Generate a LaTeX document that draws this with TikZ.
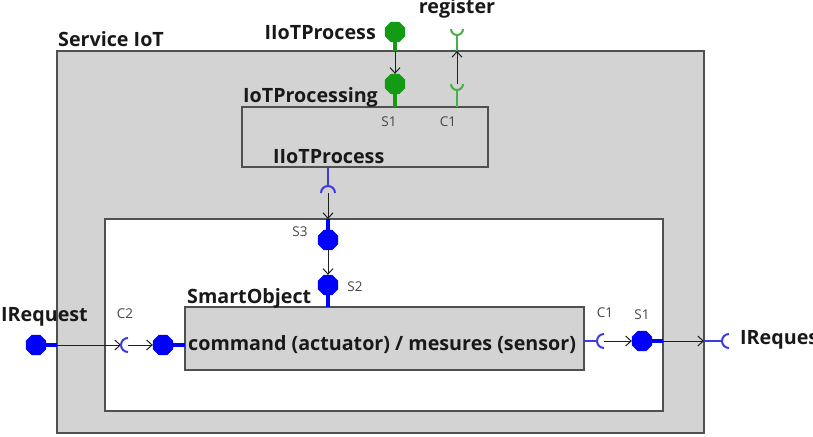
\documentclass[tikz,border=0pt]{standalone}
\usepackage{fontspec}
\setmainfont{Open Sans}
\usetikzlibrary{shapes.geometric,arrows.meta,shadows}
\definecolor{boxgray}{RGB}{211,211,211}
\definecolor{boxline}{RGB}{80,80,80}
\definecolor{pgreen}{RGB}{20,155,20}
\definecolor{lgreen}{RGB}{70,175,70}
\definecolor{pblue}{RGB}{0,0,255}
\definecolor{sblue}{RGB}{60,60,225}
\definecolor{lblgray}{RGB}{70,70,70}
\tikzset{
  box/.style={draw=boxline, line width=1.2pt, inner sep=0pt, outer sep=0pt,
    drop shadow={shadow xshift=1.2pt, shadow yshift=-1.2pt, fill=black, opacity=0.4}},
  gport/.style={regular polygon, regular polygon sides=8, minimum size=22pt, inner sep=0pt, outer sep=0pt, fill=pgreen},
  bport/.style={regular polygon, regular polygon sides=8, minimum size=22pt, inner sep=0pt, outer sep=0pt, fill=pblue},
  gstem/.style={draw=pgreen, line width=3.5pt},
  bstem/.style={draw=pblue, line width=3.2pt},
  gsock/.style={draw=lgreen, line width=2pt},
  bsock/.style={draw=sblue, line width=2pt},
  gline/.style={draw=lgreen, line width=1.3pt},
  bline/.style={draw=sblue, line width=1.4pt},
  conn/.style={draw=black!88, line width=1pt, -{Straight Barb[length=5.5pt,width=10pt]}},
  big/.style={font=\fontsize{19.7}{21}\selectfont\bfseries, inner sep=0pt, text=black!90},
  small/.style={font=\fontsize{13.5}{14}\selectfont, inner sep=0pt, text=lblgray},
}
\begin{document}
\begin{tikzpicture}[x=1pt,y=1pt]
\useasboundingbox (0,0) rectangle (813,-436);
% boxes
\node[box, fill=boxgray, minimum width=647pt, minimum height=382pt] (svc) at (380.5,-242) {};
\node[box, fill=white, minimum width=558pt, minimum height=192pt] (inner) at (384,-315) {};
\node[box, fill=boxgray, minimum width=246pt, minimum height=60pt] (proc) at (365,-137) {};
\node[box, fill=boxgray, minimum width=399pt, minimum height=63pt] (so) at (384.5,-338.5) {};

% labels
\node[big, anchor=base west] (tsvc) at (58,-47) {Service IoT};
\node[big, anchor=base east] (tiiot) at (376,-40) {IIoTProcess};
\node[big, anchor=base] (treg) at (457,-14) {register};
\node[big, anchor=base west] (tproc) at (243,-102) {IoTProcessing};
\node[big, anchor=base west] (tiiot2) at (273,-163) {IIoTProcess};
\node[big, anchor=base west] (tso) at (187,-303) {SmartObject};
\node[big, anchor=west] (tcmd) at (188,-345) {command (actuator) / mesures (sensor)};
\node[big, anchor=west] (tirl) at (1,-317) {IRequest};
\node[big, anchor=west] (tirr) at (740,-340) {IRequest};
\node[small] (ls1a) at (389,-122) {S1};
\node[small] (lc1a) at (448,-122) {C1};
\node[small] (ls3) at (300,-232) {S3};
\node[small] (ls2) at (355,-287) {S2};
\node[small] (lc2) at (125,-314) {C2};
\node[small] (lc1b) at (605,-313) {C1};
\node[small] (ls1b) at (642,-315) {S1};

% top green ports
\node[gport] (gtop) at (395,-32) {};
\node[gport] (gs1) at (395,-84) {};
\draw[gstem] (gtop.south) -- (svc.north -| gtop);
\draw[conn] (svc.north -| gtop) -- (gs1.north);
\draw[gstem] (gs1.south) -- (proc.north -| gs1);

% register sockets
\coordinate (regU) at (457,-29);
\coordinate (regUb) at (457,-35);
\coordinate (regL) at (457,-84);
\coordinate (regLb) at (457,-90);
\draw[gsock] ([xshift=-6pt]regU) arc[start angle=180, end angle=360, radius=6pt];
\draw[gline] (regUb) -- (svc.north -| regUb);
\draw[gsock] ([xshift=-6pt]regL) arc[start angle=180, end angle=360, radius=6pt];
\draw[gline] (regLb) -- (proc.north -| regLb);
\draw[conn] (regL) -- (svc.north -| regL);

% blue socket below IoTProcessing
\coordinate (sockP) at (328,-193);
\coordinate (sockPt) at (328,-186);
\draw[bsock] ([xshift=7pt]sockP) arc[start angle=0, end angle=180, radius=7pt];
\draw[bline] (proc.south -| sockPt) -- (sockPt);
\draw[conn] (sockP) -- (inner.north -| sockP);

% S3 / S2
\node[bport] (s3) at (328,-240) {};
\node[bport] (s2) at (328,-285) {};
\draw[bstem] (inner.north -| s3) -- (s3.north);
\draw[conn] (s3.south) -- (s2.north);
\draw[bstem] (s2.south) -- (so.north -| s2);

% left side
\node[bport] (irl) at (36,-345) {};
\node[bport] (sop) at (163,-345) {};
\coordinate (c2) at (128,-345);
\coordinate (c2b) at (121,-345);
\draw[bstem] (irl.east) -- (svc.west |- irl);
\draw[conn] (svc.west |- irl) -- (c2b);
\draw[bsock] ([yshift=7pt]c2) arc[start angle=90, end angle=270, radius=7pt];
\draw[conn] (c2) -- (sop.west);
\draw[bstem] (sop.east) -- (so.west |- sop);

% right side
\coordinate (c1) at (604,-341);
\coordinate (c1b) at (597,-341);
\node[bport] (s1r) at (642,-341) {};
\coordinate (irr) at (729,-341);
\coordinate (irrb) at (722,-341);
\draw[bline] (so.east |- c1b) -- (c1b);
\draw[bsock] ([yshift=7pt]c1) arc[start angle=90, end angle=270, radius=7pt];
\draw[conn] (c1) -- (s1r.west);
\draw[bstem] (s1r.east) -- (inner.east |- s1r);
\draw[conn] (inner.east |- s1r) -- (svc.east |- s1r);
\draw[bline] (svc.east |- s1r) -- (irrb);
\draw[bsock] ([yshift=7pt]irr) arc[start angle=90, end angle=270, radius=7pt];
\end{tikzpicture}
\end{document}
